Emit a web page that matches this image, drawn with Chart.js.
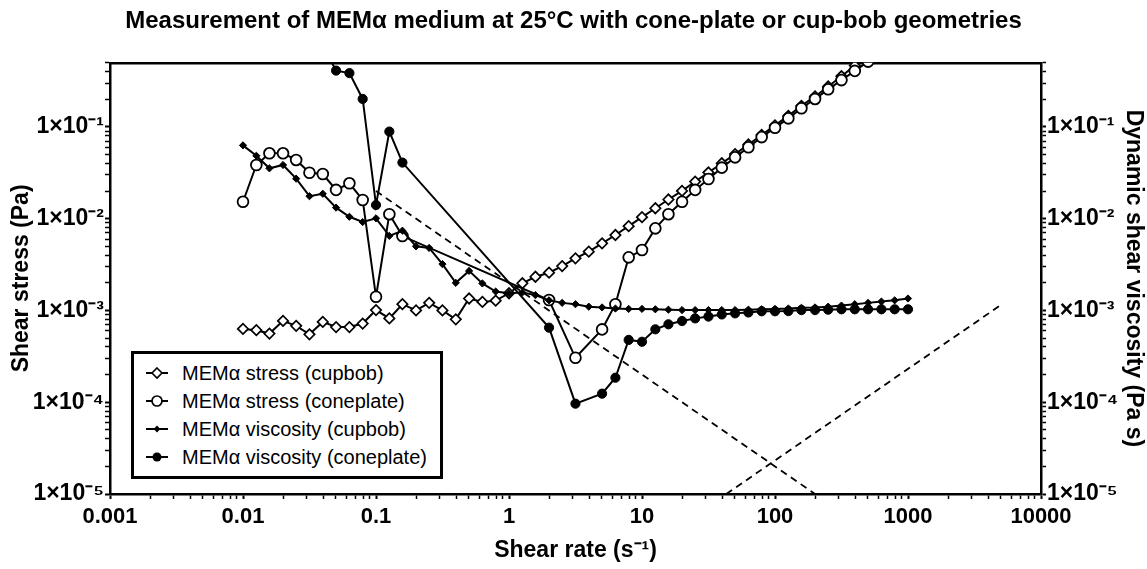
<!DOCTYPE html>
<html>
<head>
<meta charset="utf-8">
<script src="https://cdn.jsdelivr.net/npm/chart.js@4.4.0/dist/chart.umd.min.js"></script>
<style>
    html, body { margin: 0; padding: 0; background: #fff; }
    #wrap { position: relative; width: 1147px; height: 569px; }
    #legend {
        position: absolute; left: 131px; top: 351px; width: 312px; height: 128px;
        box-sizing: border-box; border: 3px solid #000; background: #fff;
        font-family: "Liberation Sans", Arial, sans-serif; font-size: 20px; color: #000;
        padding-top: 5px;
    }
    #legend .row { display: flex; align-items: center; height: 28px; white-space: nowrap; }
    #legend svg { margin-left: 12px; margin-right: 14px; flex: none; }
</style>
</head>
<body>
<div id="wrap">
    <canvas id="chart" width="1147" height="569"></canvas>
    <div id="legend"></div>
</div>
<script>
// shear rate grid of the rheometer, 10 points per decade (s-1)
const shearRate = [
    0.01, 0.0126, 0.0158, 0.02, 0.0251, 0.0316, 0.0398, 0.0501, 0.0631, 0.0794,
    0.1, 0.126, 0.158, 0.2, 0.251, 0.316, 0.398, 0.501, 0.631, 0.794,
    1, 1.26, 1.58, 2, 2.51, 3.16, 3.98, 5.01, 6.31, 7.94,
    10, 12.6, 15.8, 20, 25.1, 31.6, 39.8, 50.1, 63.1, 79.4,
    100, 126, 158, 200, 251, 316, 398, 501, 631, 794,
    1000
];

// shear stress (Pa)
const stressCupbob = [
    6.3e-4, 6.1e-4, 5.6e-4, 7.7e-4, 6.8e-4, 5.5e-4, 7.5e-4, 6.6e-4, 6.6e-4, 7.2e-4,
    1.01e-3, 8.2e-4, 1.17e-3, 1.0e-3, 1.21e-3, 1.0e-3, 8.0e-4, 1.35e-3, 1.24e-3, 1.28e-3,
    1.54e-3, 1.98e-3, 2.33e-3, 2.58e-3, 3.05e-3, 3.70e-3, 4.37e-3, 5.39e-3, 6.64e-3, 8.3e-3,
    1.04e-2, 1.30e-2, 1.62e-2, 2.01e-2, 2.54e-2, 3.19e-2, 4.02e-2, 5.06e-2, 6.44e-2, 8.18e-2,
    0.104, 0.132, 0.170, 0.215, 0.276, 0.357, 0.466, 0.606, null, null,
    null
];
const stressConeplate = [
    0.0153, 0.0385, 0.0516, 0.0516, 0.0437, 0.0317, 0.0307, 0.0206, 0.0243, 0.0160,
    0.00141, 0.0112, 0.00647, null, null, null, null, null, null, null,
    null, null, null, 0.00130, null, 0.000305, null, 0.000622, 0.00117, 0.00379,
    0.00456, 0.00785, 0.0112, 0.0153, 0.0206, 0.0271, 0.036, 0.0466, 0.060, 0.0775,
    0.098, 0.124, 0.160, 0.202, 0.257, 0.324, 0.408, 0.515, null, null,
    null
];

// dynamic shear viscosity (Pa s)
const viscCupbob = [
    0.063, 0.0485, 0.0354, 0.0385, 0.0273, 0.0176, 0.0187, 0.0132, 0.0105, 0.0092,
    0.0101, 0.0065, 0.0074, 0.0050, 0.0048, 0.0032, 0.0020, 0.0027, 0.00197, 0.00161,
    0.00154, 0.00157, 0.00147, 0.00129, 0.00121, 0.00117, 0.00110, 0.00108, 0.00105, 0.00104,
    0.00104, 0.00103, 0.00102, 0.00101, 0.00101, 0.00101, 0.00101, 0.00101, 0.00102, 0.00103,
    0.00104, 0.00105, 0.00107, 0.00108, 0.00110, 0.00113, 0.00117, 0.00121, 0.00125, 0.00129,
    0.00135
];
const viscConeplate = [
    null, null, null, null, null, null, 0.77, 0.411, 0.386, 0.202,
    0.0141, 0.089, 0.0409, null, null, null, null, null, null, null,
    null, null, null, 0.00065, null, 0.0000965, null, 0.000124, 0.000185, 0.000478,
    0.000456, 0.000623, 0.000707, 0.000767, 0.00082, 0.000858, 0.000905, 0.00093, 0.00095, 0.00098,
    0.00098, 0.000985, 0.00101, 0.00101, 0.00102, 0.00103, 0.00103, 0.00103, 0.00103, 0.00103,
    0.00103
];

// dashed guide lines
const guideDownX = [0.1, 200];
const guideDownY = [0.02, 1e-5];
const guideUpX = [43, 5000];
const guideUpY = [1e-5, 1.15e-3];

const seriesNames = [
    'MEMα stress (cupbob)',
    'MEMα stress (coneplate)',
    'MEMα viscosity (cupbob)',
    'MEMα viscosity (coneplate)'
];

const xTickValues = [0.001, 0.01, 0.1, 1, 10, 100, 1000, 10000];
const xTickLabels = ['0.001', '0.01', '0.1', '1', '10', '100', '1000', '10000'];
const yTickValues = [1e-5, 1e-4, 1e-3, 1e-2, 1e-1];
const yTickLabels = ['1×10⁻⁵', '1×10⁻⁴', '1×10⁻³', '1×10⁻²', '1×10⁻¹'];

const FONT = '"Liberation Sans", Arial, Helvetica, sans-serif';

function toPoints(xs, ys) {
    return xs.map(function (x, i) {
        return { x: x, y: ys[i] };
    });
}

// log ticks with minor marks 2..9 inside each decade
function logTicks(scale) {
    const ticks = [];
    const lo = Math.floor(Math.log10(scale.min));
    const hi = Math.ceil(Math.log10(scale.max));
    for (let d = lo; d <= hi; d++) {
        for (let m = 1; m <= 9; m++) {
            const v = m * Math.pow(10, d);
            if (v >= scale.min * 0.999 && v <= scale.max * 1.001) {
                ticks.push({ value: v, major: m === 1 });
            }
        }
    }
    scale.ticks = ticks;
}

function labelFor(values, labels) {
    return function (value) {
        for (let i = 0; i < values.length; i++) {
            if (Math.abs(Math.log10(values[i]) - Math.log10(value)) < 1e-6) {
                return labels[i];
            }
        }
        return '';
    };
}

const xTickFont = { family: FONT, size: 22, weight: 'bold' };
const yTickFont = { family: FONT, size: 23, weight: 'bold' };
const titleFont = { family: FONT, size: 23, weight: 'bold' };

function gridOpts() {
    return {
        drawOnChartArea: false,
        drawTicks: true,
        tickLength: 5,
        tickColor: '#000',
        tickWidth: function (ctx) { return ctx.tick && ctx.tick.major ? 2 : 1.5; }
    };
}

function lineSet(label, ys, axis, style, radius, fill, borderW) {
    return {
        label: label,
        data: toPoints(shearRate, ys),
        yAxisID: axis,
        borderColor: '#000',
        borderWidth: 2,
        pointStyle: style,
        pointRadius: radius,
        pointBorderWidth: borderW,
        pointBorderColor: '#000',
        pointBackgroundColor: fill,
        spanGaps: true,
        tension: 0,
        fill: false
    };
}

function guideSet(xs, ys) {
    return {
        data: toPoints(xs, ys),
        yAxisID: 'y',
        borderColor: '#000',
        borderWidth: 1.8,
        borderDash: [7, 5],
        pointRadius: 0,
        fill: false
    };
}

const data = {
    datasets: [
        lineSet(seriesNames[3], viscConeplate, 'y2', 'circle', 4.6, '#000', 1),
        lineSet(seriesNames[2], viscCupbob, 'y2', 'rectRot', 3.6, '#000', 1),
        lineSet(seriesNames[1], stressConeplate, 'y', 'circle', 5.4, '#fff', 1.8),
        lineSet(seriesNames[0], stressCupbob, 'y', 'rectRot', 5.2, '#fff', 1.7),
        guideSet(guideDownX, guideDownY),
        guideSet(guideUpX, guideUpY)
    ]
};

const config = {
    type: 'line',
    data: data,
    options: {
        responsive: false,
        animation: false,
        devicePixelRatio: 1,
        layout: { padding: 0 },
        scales: {
            x: {
                type: 'logarithmic',
                position: 'bottom',
                min: 0.001,
                max: 10000,
                afterBuildTicks: logTicks,
                afterFit: function (s) { s.height = 75; },
                ticks: {
                    autoSkip: false,
                    maxRotation: 0,
                    color: '#000',
                    font: xTickFont,
                    padding: 5,
                    callback: labelFor(xTickValues, xTickLabels)
                },
                grid: gridOpts(),
                border: { color: '#000', width: 2.5 },
                title: {
                    display: true,
                    text: 'Shear rate (s⁻¹)',
                    color: '#000',
                    font: titleFont,
                    padding: { top: 0, bottom: 5 }
                }
            },
            xTop: {
                type: 'logarithmic',
                position: 'top',
                min: 0.001,
                max: 10000,
                afterFit: function (s) { s.height = 0; },
                ticks: { display: false },
                grid: { display: false },
                border: { color: '#000', width: 2.5 }
            },
            y: {
                type: 'logarithmic',
                position: 'left',
                min: 1e-5,
                max: 0.5,
                afterBuildTicks: logTicks,
                afterFit: function (s) { s.width = 110; },
                ticks: {
                    autoSkip: false,
                    color: '#000',
                    font: yTickFont,
                    padding: 1,
                    callback: labelFor(yTickValues, yTickLabels)
                },
                grid: gridOpts(),
                border: { color: '#000', width: 2.5 },
                title: {
                    display: true,
                    text: 'Shear stress (Pa)',
                    color: '#000',
                    font: titleFont,
                    padding: { top: 8, bottom: 0 }
                }
            },
            y2: {
                type: 'logarithmic',
                position: 'right',
                min: 1e-5,
                max: 0.5,
                afterBuildTicks: logTicks,
                afterFit: function (s) { s.width = 106; },
                ticks: {
                    autoSkip: false,
                    color: '#000',
                    font: yTickFont,
                    padding: 1,
                    callback: labelFor(yTickValues, yTickLabels)
                },
                grid: gridOpts(),
                border: { color: '#000', width: 2.5 },
                title: {
                    display: true,
                    text: 'Dynamic shear viscosity (Pa s)',
                    color: '#000',
                    font: titleFont,
                    padding: { top: 0, bottom: 0 }
                }
            }
        },
        plugins: {
            legend: { display: false },
            tooltip: { enabled: false },
            title: {
                display: true,
                text: 'Measurement of MEMα medium at 25°C with cone-plate or cup-bob geometries',
                color: '#000',
                font: { family: FONT, size: 24, weight: 'bold' },
                padding: { top: 7, bottom: 27 }
            }
        }
    }
};

const chart = new Chart(document.getElementById('chart'), config);

// legend box drawn inside the plot, as in the original figure
const legendMarks = [
    '<polygon points="11,2 16,7 11,12 6,7" fill="#fff" stroke="#000" stroke-width="1.6"/>',
    '<circle cx="11" cy="7" r="5" fill="#fff" stroke="#000" stroke-width="1.7"/>',
    '<polygon points="11,3.6 14.4,7 11,10.4 7.6,7" fill="#000"/>',
    '<circle cx="11" cy="7" r="4.5" fill="#000"/>'
];
const legendEl = document.getElementById('legend');
seriesNames.forEach(function (name, i) {
    const row = document.createElement('div');
    row.className = 'row';
    row.innerHTML = '<svg width="22" height="14" viewBox="0 0 22 14">' +
        '<line x1="0" y1="7" x2="22" y2="7" stroke="#000" stroke-width="2"/>' +
        legendMarks[i] + '</svg><span>' + name + '</span>';
    legendEl.appendChild(row);
});
</script>
</body>
</html>
